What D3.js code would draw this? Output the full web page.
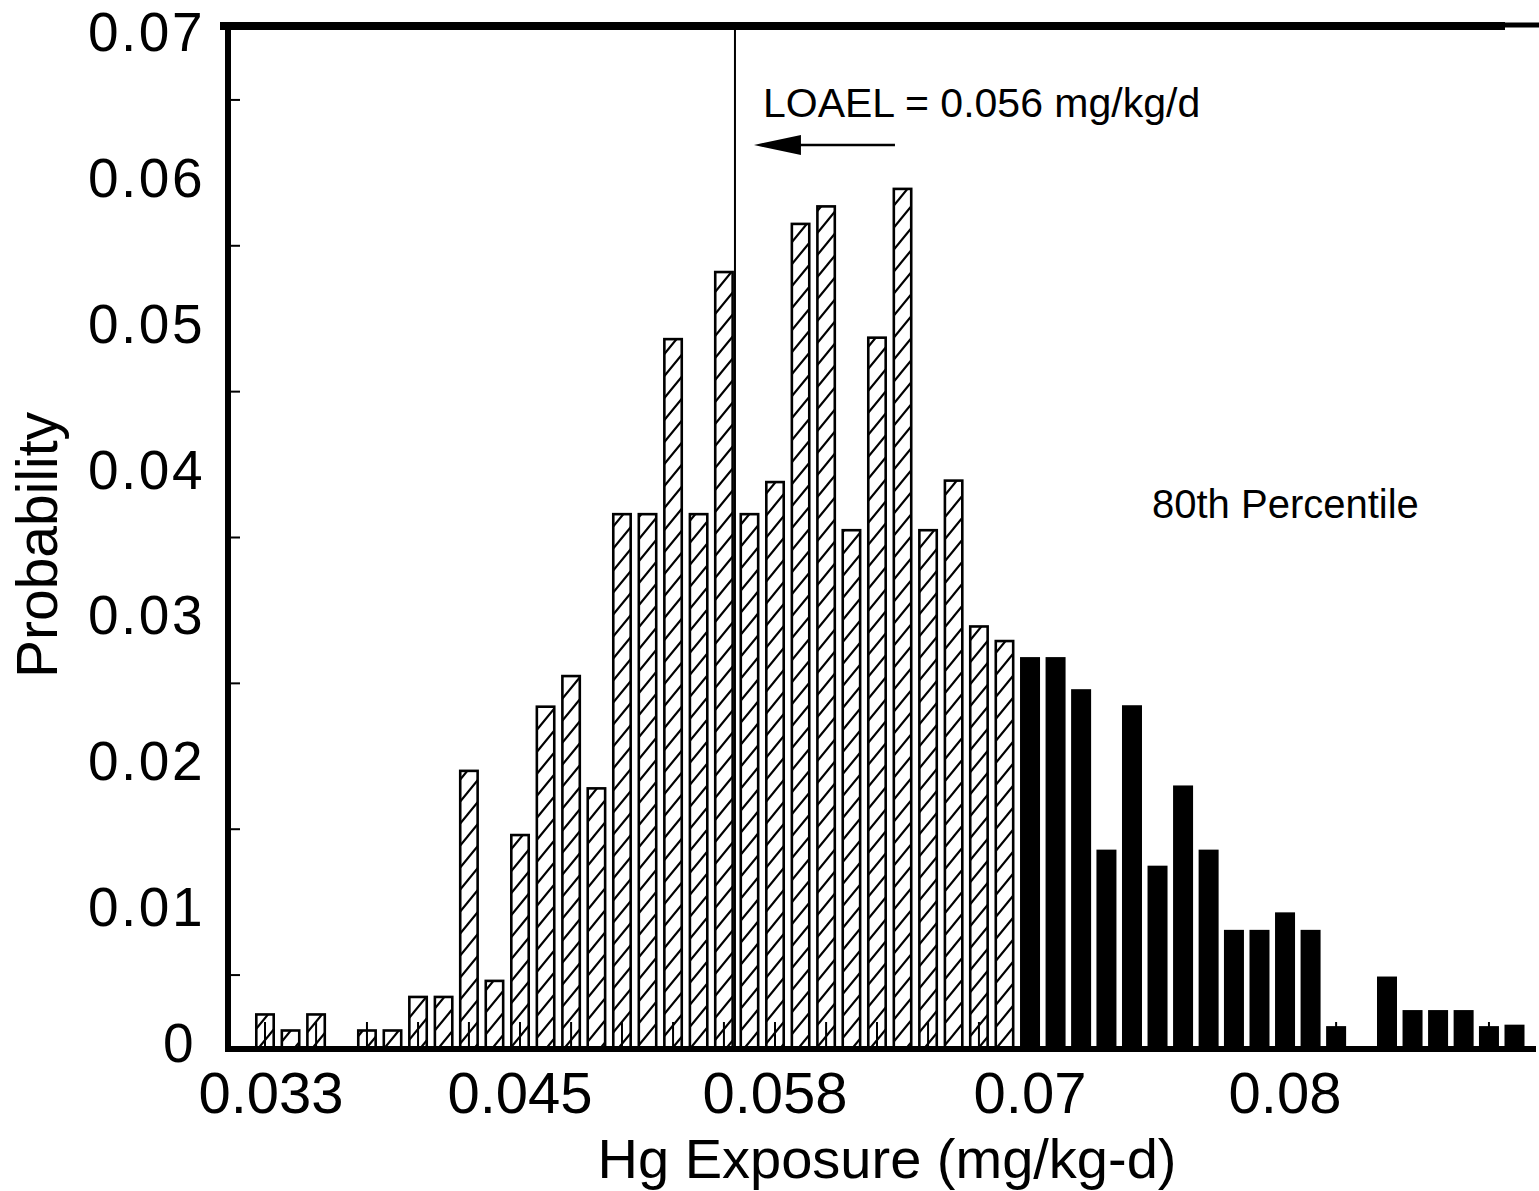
<!DOCTYPE html>
<html><head><meta charset="utf-8">
<script src="https://cdn.jsdelivr.net/npm/d3@7"></script>
<style>
body{margin:0;background:#fff}
svg{display:block;background:#fff}
text{font-family:"Liberation Sans",Arial,Helvetica,sans-serif;fill:#000}
</style>
</head><body>
<svg id="chart" width="1539" height="1191"></svg>
<script>
// ---- data ----
const binCenters = [0.03300,0.03425,0.03550,0.03674,0.03799,0.03924,0.04049,0.04174,0.04298,0.04423,
  0.04548,0.04673,0.04798,0.04922,0.05047,0.05172,0.05297,0.05422,0.05546,0.05671,
  0.05796,0.05921,0.06046,0.06170,0.06295,0.06420,0.06545,0.06670,0.06794,0.06919,
  0.07044,0.07169,0.07294,0.07418,0.07543,0.07668,0.07793,0.07918,0.08042,0.08167,
  0.08292,0.08417,0.08542,0.08666,0.08791,0.08916,0.09041,0.09166,0.09290,0.09415];
const probability = [0.0023,0.0012,0.0023,0,0.0012,0.0012,0.0035,0.0035,0.0190,0.0046,
  0.0146,0.0234,0.0255,0.0178,0.0366,0.0366,0.0486,0.0366,0.0532,0.0366,
  0.0388,0.0565,0.0577,0.0355,0.0487,0.0589,0.0355,0.0389,0.0289,0.0279,
  0.0268,0.0268,0.0246,0.0136,0.0235,0.0125,0.0180,0.0136,0.0081,0.0081,
  0.0093,0.0081,0.0015,0,0.0049,0.0026,0.0026,0.0026,0.0015,0.0016];
const yTickValues = [0,0.01,0.02,0.03,0.04,0.05,0.06,0.07];
const yTickLabels = ["0","0.01","0.02","0.03","0.04","0.05","0.06","0.07"];
const yMinorTicks = [0.005,0.015,0.025,0.035,0.045,0.055,0.065];
const xLabelBins = [0,10,20,30,40];
const xTickLabels = ["0.033","0.045","0.058","0.07","0.08"];
const loaelValue = 0.056;
const loaelText = "LOAEL = 0.056 mg/kg/d";
const percentileCut = 0.0698;
const percentileText = "80th Percentile";
const xTitle = "Hg Exposure (mg/kg-d)";
const yTitle = "Probability";

// ---- layout ----
const svg = d3.select("#chart");
const x = d3.scaleLinear().domain([binCenters[0], binCenters[binCenters.length-1]]).range([265, 1514.5]);
const y = d3.scaleLinear().domain([0, 0.07]).range([1048, 27]);
const barW = 20;

const defs = svg.append("defs");
const pat = defs.append("pattern").attr("id","hatch").attr("patternUnits","userSpaceOnUse")
  .attr("width",18).attr("height",22);
pat.append("rect").attr("width",18).attr("height",22).attr("fill","#fff");
pat.append("path").attr("d","M-2,24.4 L20,-2.4 M-20,24.4 L2,-2.4 M16,24.4 L38,-2.4")
  .attr("stroke","#000").attr("stroke-width",2.2);

const data = binCenters.map((c,i)=>({c, p: probability[i], i}));

// bars
svg.append("g").selectAll("rect").data(data.filter(d=>d.p>0)).join("rect")
  .attr("x", d => d.c >= percentileCut ? x(d.c)-barW/2 : x(d.c)-barW/2+1.3)
  .attr("width", d => d.c >= percentileCut ? barW : barW-2.6)
  .attr("y", d => y(d.p))
  .attr("height", d => y(0)-y(d.p))
  .attr("fill", d => d.c >= percentileCut ? "#000" : "url(#hatch)")
  .attr("stroke", d => d.c >= percentileCut ? "none" : "#000")
  .attr("stroke-width", 2.6);

// x minor ticks (every other bin), drawn upward from baseline
svg.append("g").selectAll("line").data(data.filter(d=>d.i%2===0)).join("line")
  .attr("x1", d=>x(d.c)).attr("x2", d=>x(d.c))
  .attr("y1", y(0)).attr("y2", y(0)-26)
  .attr("stroke","#000").attr("stroke-width",2);

// y minor ticks
svg.append("g").selectAll("line").data(yMinorTicks).join("line")
  .attr("x1",228).attr("x2",240)
  .attr("y1", d=>y(d)).attr("y2", d=>y(d))
  .attr("stroke","#000").attr("stroke-width",2);

// frame
svg.append("line").attr("x1",220).attr("x2",1505).attr("y1",26).attr("y2",26).attr("stroke","#000").attr("stroke-width",8);
svg.append("line").attr("x1",1505).attr("x2",1539).attr("y1",25).attr("y2",25).attr("stroke","#000").attr("stroke-width",5);
svg.append("line").attr("x1",228).attr("x2",228).attr("y1",22).attr("y2",1052).attr("stroke","#000").attr("stroke-width",6);
svg.append("line").attr("x1",225).attr("x2",1536).attr("y1",1049).attr("y2",1049).attr("stroke","#000").attr("stroke-width",6);

// LOAEL
const xl = x(loaelValue);
svg.append("line").attr("x1",xl).attr("x2",xl).attr("y1",28).attr("y2",1048).attr("stroke","#000").attr("stroke-width",2);
svg.append("line").attr("x1",xl+40).attr("x2",xl+160).attr("y1",145).attr("y2",145).attr("stroke","#000").attr("stroke-width",2.5);
svg.append("path").attr("d",`M${xl+19},145 L${xl+66},135 L${xl+66},155 Z`).attr("fill","#000");
svg.append("text").attr("x",xl+28).attr("y",117).attr("font-size",41).text(loaelText);

// annotation
svg.append("text").attr("x",1152).attr("y",518).attr("font-size",40).text(percentileText);

// y tick labels
svg.append("g").selectAll("text").data(yTickValues).join("text")
  .attr("x", d => d === 0 ? 196 : 205)
  .attr("y", d => d === 0 ? y(d)+14 : y(d)+24)
  .attr("text-anchor","end").attr("font-size",55).attr("letter-spacing",2.5)
  .text((d,i)=>yTickLabels[i]);

// x tick labels
svg.append("g").selectAll("text").data(xLabelBins).join("text")
  .attr("x",(d,i)=>x(binCenters[d]) + (i===0 ? 6 : 0)).attr("y",1113).attr("text-anchor","middle").attr("font-size",58)
  .text((d,i)=>xTickLabels[i]);

// titles
svg.append("text").attr("x",887).attr("y",1178).attr("text-anchor","middle").attr("font-size",56).text(xTitle);
svg.append("text").attr("transform","translate(57,545) rotate(-90)").attr("text-anchor","middle").attr("font-size",57).text(yTitle);
</script>
</body></html>
